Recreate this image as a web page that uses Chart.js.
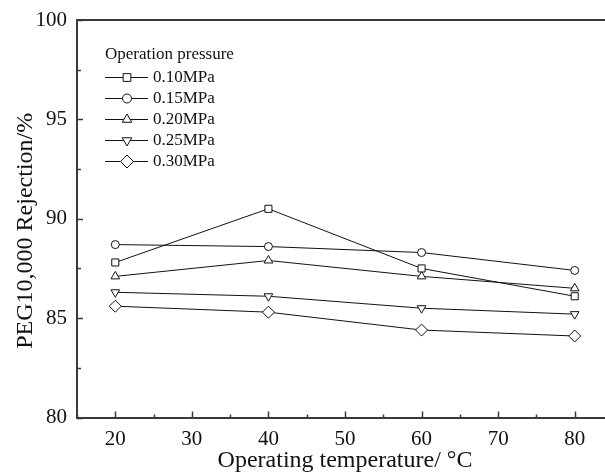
<!DOCTYPE html>
<html>
<head>
<meta charset="utf-8">
<script src="https://cdn.jsdelivr.net/npm/chart.js@4/dist/chart.umd.min.js"></script>
<style>
  html, body { margin: 0; padding: 0; background: #fff; overflow: hidden; }
  #wrap { width: 620px; height: 473px; }
</style>
</head>
<body>
<div id="wrap"><canvas id="c" width="620" height="473"></canvas></div>
<script>
// ---- data ----
const temperatures = [20, 40, 60, 80];
const seriesNames = ['0.10MPa', '0.15MPa', '0.20MPa', '0.25MPa', '0.30MPa'];
const rej010 = [87.8, 90.5, 87.5, 86.1];
const rej015 = [88.7, 88.6, 88.3, 87.4];
const rej020 = [87.1, 87.9, 87.1, 86.5];
const rej025 = [86.3, 86.1, 85.5, 85.2];
const rej030 = [85.6, 85.3, 84.4, 84.1];
const legendTitle = 'Operation pressure';
const xTitle = 'Operating temperature/ \u00B0C';
const yTitle = 'PEG10,000 Rejection/%';

const SERIF = '"Liberation Serif", "DejaVu Serif", serif';
const INK = '#111';
const AXIS = '#3a3a3a';

const styles = [
  { pointStyle: 'rect', radius: 5, rotation: 0 },
  { pointStyle: 'circle', radius: 4, rotation: 0 },
  { pointStyle: 'triangle', radius: 5, rotation: 0 },
  { pointStyle: 'triangle', radius: 5, rotation: 180 },
  { pointStyle: 'rectRot', radius: 6, rotation: 0 }
];
const allSeries = [rej010, rej015, rej020, rej025, rej030];

const datasets = allSeries.map((vals, i) => ({
  label: seriesNames[i],
  data: temperatures.map((t, j) => ({ x: t, y: vals[j] })),
  borderColor: INK,
  borderWidth: 1,
  backgroundColor: '#fff',
  pointBackgroundColor: '#fff',
  pointBorderColor: INK,
  pointBorderWidth: 1,
  pointStyle: styles[i].pointStyle,
  pointRadius: styles[i].radius,
  pointRotation: styles[i].rotation,
  tension: 0,
  fill: false
}));

const framePlugin = {
  id: 'frame',
  afterDraw(chart) {
    const ctx = chart.ctx;
    const a = chart.chartArea;
    const xs = chart.scales.x, ys = chart.scales.y;
    ctx.save();
    ctx.strokeStyle = AXIS;
    ctx.lineWidth = 2;
    ctx.beginPath();
    ctx.moveTo(a.left - 1, a.top);
    ctx.lineTo(a.right, a.top);
    ctx.stroke();
    ctx.lineWidth = 1.5;
    // inward ticks, y
    for (let v = ys.min; v <= ys.max + 1e-9; v += 2.5) {
      const y = Math.round(ys.getPixelForValue(v)) + 0.5;
      const len = (Math.abs(v % 5) < 1e-9) ? 6 : 4;
      ctx.beginPath();
      ctx.moveTo(a.left, y);
      ctx.lineTo(a.left + len, y);
      ctx.stroke();
    }
    // inward ticks, x
    for (let v = xs.min; v <= xs.max + 1e-9; v += 5) {
      const x = Math.round(xs.getPixelForValue(v)) + 0.5;
      const len = (Math.abs(v % 10) < 1e-9) ? 6 : 3;
      ctx.beginPath();
      ctx.moveTo(x, a.bottom);
      ctx.lineTo(x, a.bottom - len);
      ctx.stroke();
    }
    ctx.restore();
  }
};

const legendPlugin = {
  id: 'customLegend',
  afterDatasetsDraw(chart) {
    const ctx = chart.ctx;
    ctx.save();
    ctx.font = '17px ' + SERIF;
    ctx.fillStyle = INK;
    ctx.textBaseline = 'middle';
    ctx.textAlign = 'left';
    ctx.fillText(legendTitle, 105, 55);
    chart.data.datasets.forEach((ds, i) => {
      const y = 77 + i * 21;
      ctx.strokeStyle = INK;
      ctx.lineWidth = 1;
      ctx.beginPath();
      ctx.moveTo(105, y + 0.5);
      ctx.lineTo(148, y + 0.5);
      ctx.stroke();
      ctx.fillStyle = '#fff';
      ctx.strokeStyle = INK;
      ctx.lineWidth = 1;
      Chart.helpers.drawPoint(ctx, {
        pointStyle: ds.pointStyle,
        radius: ds.pointRadius + 0.5,
        rotation: ds.pointRotation,
        borderWidth: 1
      }, 127, y + 0.5);
      ctx.fillStyle = INK;
      ctx.fillText(ds.label, 153, y + 1);
    });
    ctx.restore();
  }
};

new Chart(document.getElementById('c'), {
  type: 'line',
  data: { datasets },
  options: {
    responsive: false,
    animation: false,
    layout: { padding: { top: 20, right: 6, left: 0, bottom: 0 } },
    plugins: {
      legend: { display: false },
      tooltip: { enabled: false }
    },
    scales: {
      x: {
        type: 'linear',
        position: 'bottom',
        min: 15,
        max: 85,
        afterFit(s) { s.height = 55.5; },
        grid: { display: false },
        border: { display: true, color: AXIS, width: 2 },
        ticks: {
          stepSize: 5,
          includeBounds: false,
          autoSkip: false,
          maxRotation: 0,
          padding: 1,
          color: INK,
          font: { family: SERIF, size: 21 },
          callback: (v) => (v % 10 === 0 && v >= 20 && v <= 80) ? String(v) : ''
        },
        title: {
          display: true,
          text: xTitle,
          color: INK,
          font: { family: SERIF, size: 24 },
          padding: { top: 0, bottom: -2 }
        }
      },
      y: {
        type: 'linear',
        min: 80,
        max: 100,
        afterFit(s) { s.width = 77; },
        grid: { display: false },
        border: { display: true, color: AXIS, width: 2 },
        ticks: {
          stepSize: 2.5,
          autoSkip: false,
          padding: 2,
          color: INK,
          font: { family: SERIF, size: 21 },
          callback: (v) => (v % 5 === 0) ? String(v) : ''
        },
        title: {
          display: true,
          text: yTitle + '    ',
          color: INK,
          font: { family: SERIF, size: 24 },
          padding: { top: 11, bottom: 0 }
        }
      }
    }
  },
  plugins: [framePlugin, legendPlugin]
});
</script>
</body>
</html>
